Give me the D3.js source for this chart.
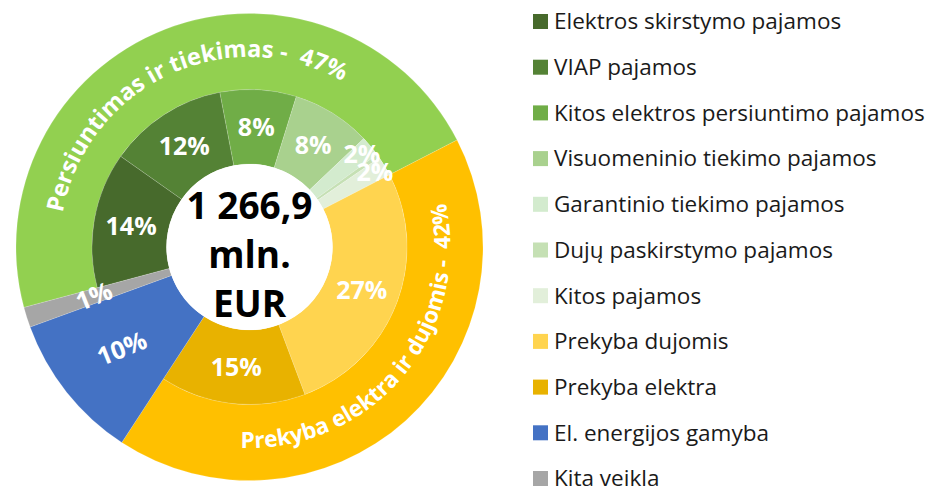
<!DOCTYPE html>
<html>
<head>
<meta charset="utf-8">
<script src="https://cdn.jsdelivr.net/npm/d3@7"></script>
<style>
  html, body { margin: 0; padding: 0; background: #fff; }
  svg { display: block; font-family: "Open Sans", "Noto Sans", sans-serif; }
</style>
</head>
<body>
<svg id="chart" width="928" height="488"></svg>
<script>
// inner ring: revenue split by activity (share of total, %)
const categories = [
  "Elektros skirstymo pajamos",
  "VIAP pajamos",
  "Kitos elektros persiuntimo pajamos",
  "Visuomeninio tiekimo pajamos",
  "Garantinio tiekimo pajamos",
  "Dujų paskirstymo pajamos",
  "Kitos pajamos",
  "Prekyba dujomis",
  "Prekyba elektra",
  "El. energijos gamyba",
  "Kita veikla",
];
const shares = [13.9, 12.2, 7.8, 8.1, 2.1, 0.4, 2.0, 26.8, 14.9, 10.2, 1.4];
const shareLabels = ["14%", "12%", "8%", "8%", "2%", "", "2%", "27%", "15%", "10%", "1%"];
const categoryGroup = [0, 0, 0, 0, 0, 0, 0, 1, 1, 2, 3];
const categoryColors = [
  "#476a2c", "#548235", "#70ad47", "#a9d18e", "#d3ebce", "#c5e0b4", "#e2efda",
  "#ffd44f", "#e8b200", "#4472c4", "#a6a6a6",
];

// outer ring: segments
const groups = ["Persiuntimas ir tiekimas", "Prekyba elektra ir dujomis", "El. energijos gamyba", "Kita veikla"];
const groupLabels = ["47%", "42%", "10%", "1%"];
const groupColors = ["#92d050", "#ffc000", "#4472c4", "#a6a6a6"];

const totalLines = ["1 266,9", "mln.", "EUR"];

const cx = 249.5, cy = 247;
const rHole = 83, rMid = 157.5, rOuter = 233.5;
const rad = (deg) => (deg * Math.PI) / 180;
const start = rad(255);

const svg = d3.select("#chart");
const g = svg.append("g").attr("transform", `translate(${cx},${cy})`);

const inner = categories.map((name, i) => ({
  name, value: shares[i], label: shareLabels[i], group: categoryGroup[i], color: categoryColors[i],
}));
const groupSize = d3.rollup(inner, (v) => v.length, (d) => d.group);
const outer = groups.map((name, i) => ({
  name,
  value: d3.sum(inner.filter((d) => d.group === i), (d) => d.value),
  label: groupLabels[i],
  color: groupColors[i],
  single: groupSize.get(i) === 1,
}));

const pie = d3.pie().sort(null).value((d) => d.value).startAngle(start).endAngle(start + 2 * Math.PI);
const innerArcs = pie(inner);
const outerArcs = pie(outer);

const outerArc = d3.arc().innerRadius(rMid).outerRadius(rOuter);
const innerArc = d3.arc().innerRadius(rHole).outerRadius((d) => (groupSize.get(d.data.group) === 1 ? rOuter : rMid));

g.append("g")
  .selectAll("path")
  .data(outerArcs.filter((d) => !d.data.single))
  .join("path")
  .attr("d", outerArc)
  .attr("fill", (d) => d.data.color)
  .attr("stroke", "#fff")
  .attr("stroke-opacity", 0.2)
  .attr("stroke-width", 0.75);

g.append("g")
  .selectAll("path")
  .data(innerArcs)
  .join("path")
  .attr("d", innerArc)
  .attr("fill", (d) => d.data.color)
  .attr("stroke", "#fff")
  .attr("stroke-opacity", 0.2)
  .attr("stroke-width", 0.75);

// white hole + total
g.append("circle").attr("r", rHole).attr("fill", "#fff");
g.append("text")
  .attr("text-anchor", "middle")
  .attr("font-weight", 700)
  .attr("font-size", 37)
  .attr("fill", "#000")
  .selectAll("tspan")
  .data(totalLines)
  .join("tspan")
  .attr("x", 0)
  .attr("y", (d, i) => -28 + i * 49)
  .text((d) => d);

// percentage labels in the inner ring
const labelPos = (d) => {
  let r = (rHole + rMid) / 2;
  if (groupSize.get(d.data.group) === 1) r = 163;
  else if (d.data.value < 3) r = 146;
  return d3.arc().innerRadius(r).outerRadius(r).centroid(d);
};
g.append("g")
  .selectAll("text")
  .data(innerArcs.filter((d) => d.data.label))
  .join("text")
  .attr("transform", (d) => {
    const [x, y] = labelPos(d);
    const rot = groupSize.get(d.data.group) === 1 ? -22 : 0;
    return `translate(${x},${y}) rotate(${rot})`;
  })
  .attr("text-anchor", "middle")
  .attr("dy", "0.36em")
  .attr("font-weight", 700)
  .attr("font-size", 25)
  .attr("fill", "#fff")
  .text((d) => d.data.label);

// curved segment labels in the outer ring
const nudge = { 0: -4, 1: -8 };
const curved = outerArcs.filter((d) => !d.data.single);
curved.forEach((d, i) => {
  const mid = (d.startAngle + d.endAngle) / 2 + rad(nudge[i] || 0);
  const m = ((mid % (2 * Math.PI)) + 2 * Math.PI) % (2 * Math.PI);
  const bottom = m > Math.PI / 2 && m < (3 * Math.PI) / 2;
  const half = rad(85);
  const r = bottom ? 201 : 190;
  const p = d3.path();
  if (bottom) {
    p.moveTo(r * Math.cos(mid + half - Math.PI / 2), r * Math.sin(mid + half - Math.PI / 2));
    p.arc(0, 0, r, mid + half - Math.PI / 2, mid - half - Math.PI / 2, true);
  } else {
    p.moveTo(r * Math.cos(mid - half - Math.PI / 2), r * Math.sin(mid - half - Math.PI / 2));
    p.arc(0, 0, r, mid - half - Math.PI / 2, mid + half - Math.PI / 2, false);
  }
  const id = "seg-path-" + i;
  g.append("path").attr("id", id).attr("d", p.toString()).attr("fill", "none");
  g.append("text")
    .attr("font-weight", 700)
    .attr("font-size", bottom ? 22.5 : 23.5)
    .attr("fill", "#fff")
    .style("white-space", "pre")
    .append("textPath")
    .attr("href", "#" + id)
    .attr("startOffset", "50%")
    .attr("text-anchor", "middle")
    .text(`${d.data.name} -  ${d.data.label}`);
});

// legend
const legend = svg.append("g").attr("transform", "translate(533,0)");
const rows = legend
  .selectAll("g")
  .data(categories)
  .join("g")
  .attr("transform", (d, i) => `translate(0,${21.5 + i * 45.7})`);
rows.append("rect")
  .attr("x", 0)
  .attr("y", -7.5)
  .attr("width", 15)
  .attr("height", 15)
  .attr("fill", (d, i) => categoryColors[i]);
rows.append("text")
  .attr("x", 21)
  .attr("dy", "0.35em")
  .attr("font-size", 22.5)
  .attr("fill", "#1a1a1a")
  .text((d) => d);
</script>
</body>
</html>
